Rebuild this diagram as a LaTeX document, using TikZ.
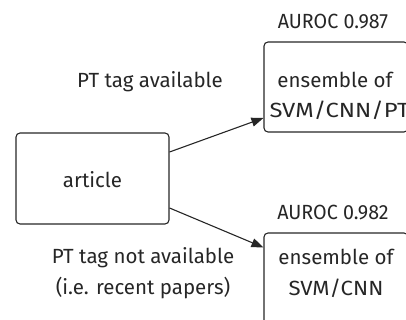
\documentclass[tikz,border=0pt]{standalone}
\usepackage{fontspec}
\setmainfont{Fira Sans}
\usetikzlibrary{arrows.meta,calc}
\begin{document}
\begin{tikzpicture}[x=1pt,y=-1pt,
  box/.style={draw=black!85,line width=1.1pt,rounded corners=4pt,inner sep=0pt},
  lbl/.style={font=\fontsize{20.5}{31}\selectfont,text=black!85,inner sep=0pt,align=center},
  conn/.style={line width=1.1pt,draw=black!85,-{Triangle[length=12pt,width=9pt]}}]
\useasboundingbox (0,0) rectangle (406,320);
\clip (0,0) rectangle (406,320);
% boxes
\node[box,minimum width=153pt,minimum height=91pt] (art) at (92.5,178.5) {};
\node[box,minimum width=144pt,minimum height=90pt] (top) at (336,87) {};
\node[box,minimum width=144pt,minimum height=120pt] (bot) at (336,293) {};
% texts
\node[lbl] (tart) at (92.5,180) {article};
\node[lbl] (ttopa) at (335,79.5) {ensemble of};
\node[lbl] (ttopb) at (339.5,110.5) {\scalebox{1.16}[1]{SVM/CNN/PT}};
\node[lbl] (tbot) at (336,273) {ensemble of\\\scalebox{1.08}[1]{SVM/CNN}};
\node[lbl] (atop) at (333,22) {\scalebox{0.96}[1]{AUROC 0.987}};
\node[lbl] (abot) at (333,213) {\scalebox{0.96}[1]{AUROC 0.982}};
\node[lbl] (lavail) at (150,82) {PT tag available};
\node[lbl] (lnot) at (143,273) {PT tag not available\\(i.e. recent papers)};
% connectors
\draw[conn] ([yshift=26.5pt]art.east) -- ([yshift=-31pt]top.west);
\draw[conn] ([yshift=-29.5pt]art.east) -- ([yshift=-15pt]bot.north west);
\end{tikzpicture}
\end{document}
